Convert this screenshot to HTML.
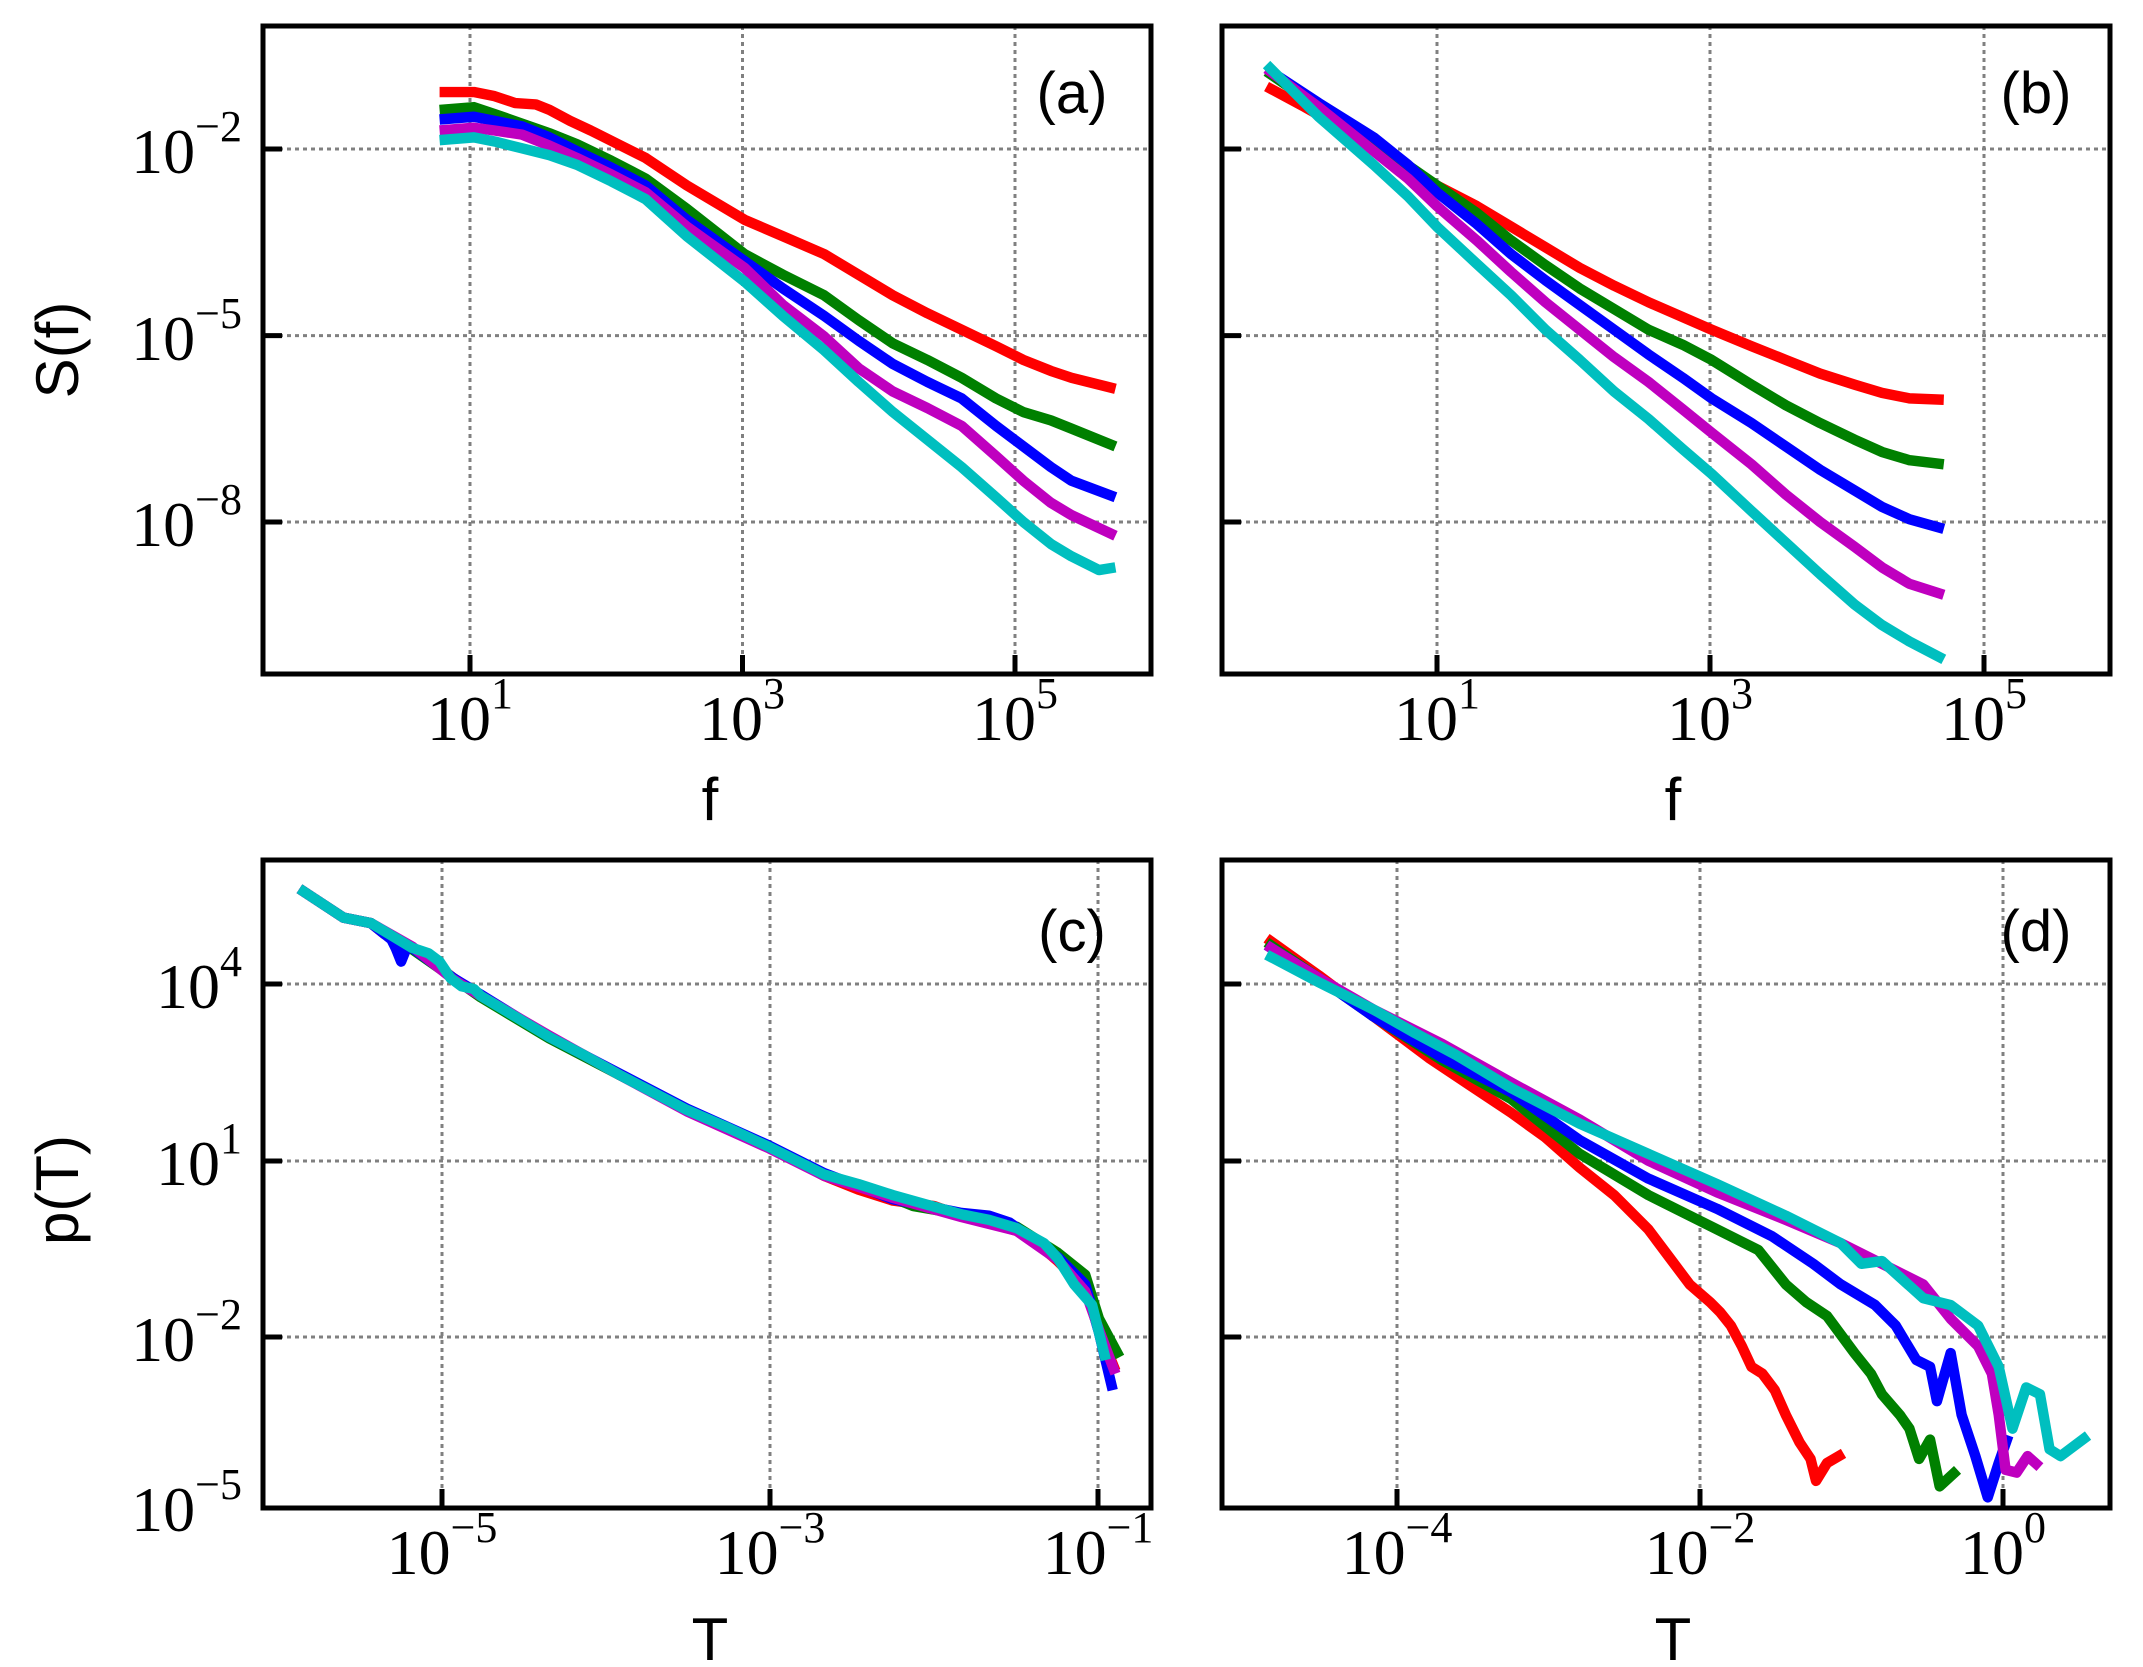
<!DOCTYPE html>
<html><head><meta charset="utf-8"><style>
html,body{margin:0;padding:0;background:#fff;}
svg{display:block;}
.tk{font-family:"Liberation Serif",serif;font-size:64px;}
.sp{font-size:44px;}
.al{font-family:"Liberation Sans",sans-serif;font-size:60px;}
.pl{font-family:"Liberation Sans",sans-serif;font-size:58px;}
.g{stroke:#808080;stroke-width:3;stroke-dasharray:4 4;fill:none;}
.sp1{fill:none;stroke:#000;stroke-width:5;}
.c polyline{fill:none;stroke-width:7.6;stroke-linejoin:round;stroke-linecap:butt;}
</style></head><body>
<svg width="2143" height="1667" viewBox="0 0 2143 1667" xmlns="http://www.w3.org/2000/svg">
<g class="g">
<path d="M470 26V674M742.5 26V674M1015 26V674M263 149H1151M263 335.6H1151M263 522H1151"/>
<path d="M1437 26V674M1710 26V674M1984 26V674M1222 149H2110M1222 335.6H2110M1222 522H2110"/>
<path d="M442 860V1508M770 860V1508M1098 860V1508M263 984H1151M263 1161H1151M263 1337H1151"/>
<path d="M1397 860V1508M1700 860V1508M2003 860V1508M1222 984H2110M1222 1161H2110M1222 1337H2110"/>
</g>
<g class="c" transform="scale(1.3737)">
<g>
<polyline stroke="#ff0000" points="320,67 345,67 360,70 375,75 390,76 400,80 415,88 430,95 450,105 470,115 500,135 542,160 570,172 600,185 625,200 650,215 675,228 700,240 725,252 745,262 765,270 780,275 812,283"/>
<polyline stroke="#008000" points="320,80 345,78 360,83 380,90 400,97 420,105 445,117 470,130 500,152 542,185 570,200 600,215 625,233 650,250 675,262 700,275 725,290 745,300 765,306 780,312 812,325"/>
<polyline stroke="#0000ff" points="320,87 345,85 360,88 380,92 400,100 420,110 445,122 470,135 500,160 542,190 570,210 600,230 625,248 650,265 675,278 700,290 725,310 745,325 765,340 780,350 812,362"/>
<polyline stroke="#bf00bf" points="320,95 345,93 360,95 380,98 400,106 420,115 445,127 470,140 500,165 542,195 570,222 600,245 625,268 650,285 675,297 700,310 725,332 745,350 765,366 780,375 812,390"/>
<polyline stroke="#00bfbf" points="320,102 345,100 360,103 380,108 400,113 420,120 445,132 470,145 500,172 542,205 570,230 600,255 625,278 650,300 675,320 700,340 725,362 745,380 765,396 780,405 800,415 812,413"/>
</g>
<g>
<polyline stroke="#ff0000" points="922,63 950,78 980,95 1010,113 1046,135 1075,150 1100,165 1125,180 1150,195 1175,208 1200,220 1246,240 1275,252 1300,262 1325,272 1350,280 1370,286 1390,290 1415,291"/>
<polyline stroke="#008000" points="922,52 960,78 985,95 1010,110 1046,135 1075,155 1100,175 1125,193 1150,210 1175,225 1200,240 1225,251 1246,262 1275,280 1300,295 1325,308 1350,320 1370,329 1390,335 1415,338"/>
<polyline stroke="#0000ff" points="922,50 960,75 1000,100 1025,120 1046,140 1075,163 1100,185 1125,204 1150,222 1175,240 1200,258 1225,275 1246,290 1275,308 1300,325 1325,342 1350,357 1370,369 1390,378 1415,385"/>
<polyline stroke="#bf00bf" points="922,50 960,78 1000,110 1025,130 1046,150 1075,175 1100,198 1125,220 1150,240 1175,260 1200,278 1225,298 1246,315 1275,338 1300,360 1325,380 1350,398 1370,413 1390,425 1415,433"/>
<polyline stroke="#00bfbf" points="922,47 960,85 1000,120 1025,143 1046,165 1075,192 1100,215 1125,240 1150,262 1175,285 1200,305 1225,327 1246,345 1275,372 1300,395 1325,418 1350,440 1370,455 1390,467 1415,480"/>
</g>
<g>
<polyline stroke="#ff0000" points="218,647 250,668 270,672 280,680 300,690 315,700 330,712 350,725 375,740 400,755 425,768 450,782 475,795 500,808 530,821 560,835 580,845 600,856 625,866 650,874 680,878 700,885 720,890 740,896 755,905 770,918 790,938 800,968 812,998"/>
<polyline stroke="#008000" points="218,647 250,668 270,672 300,691 330,712 350,726 400,756 450,782 500,808 560,835 600,855 650,872 665,878 700,884 740,893 770,912 790,928 800,960 815,988"/>
<polyline stroke="#0000ff" points="218,647 250,668 270,672 285,684 288,690 292,700 296,690 300,690 330,712 350,724 400,755 450,781 500,807 560,834 600,854 650,873 700,883 720,885 735,890 770,915 790,935 800,970 810,1012"/>
<polyline stroke="#bf00bf" points="218,647 250,668 270,672 300,689 330,713 350,725 400,754 450,782 500,809 560,836 600,856 650,872 700,886 740,896 770,917 790,940 800,968 812,1000"/>
<polyline stroke="#00bfbf" points="218,647 250,668 270,672 300,690 312,694 320,700 328,712 336,718 345,720 350,725 375,740 400,755 425,768 450,782 475,795 500,808 530,821 560,835 600,855 625,862 650,870 700,884 720,888 740,894 760,905 770,916 782,935 795,950 805,990"/>
</g>
<g>
<polyline stroke="#ff0000" points="922,683 960,710 1000,740 1040,770 1070,790 1100,810 1125,828 1150,850 1175,870 1200,895 1215,915 1230,935 1245,948 1252,955 1260,965 1268,980 1275,995 1283,1000 1292,1012 1300,1030 1310,1050 1318,1062 1322,1078 1330,1065 1342,1058"/>
<polyline stroke="#008000" points="922,686 960,712 1000,740 1050,772 1100,800 1150,840 1200,870 1250,895 1280,910 1300,935 1315,948 1330,958 1350,985 1362,1000 1370,1015 1383,1030 1390,1040 1397,1062 1405,1048 1412,1082 1425,1070"/>
<polyline stroke="#0000ff" points="922,688 960,712 1000,740 1050,770 1100,795 1150,830 1200,858 1250,880 1290,900 1320,920 1340,935 1365,950 1380,965 1395,990 1405,995 1410,1020 1420,985 1428,1030 1438,1060 1447,1090 1455,1065 1462,1045"/>
<polyline stroke="#bf00bf" points="922,688 960,712 1000,735 1050,760 1100,788 1150,815 1200,845 1250,868 1300,888 1340,905 1380,925 1400,935 1420,960 1440,980 1450,1000 1455,1030 1460,1070 1468,1072 1476,1060 1485,1068"/>
<polyline stroke="#00bfbf" points="922,695 960,715 1000,735 1030,752 1060,768 1100,792 1150,818 1200,840 1250,862 1300,885 1340,905 1355,920 1370,918 1400,945 1420,950 1440,965 1455,995 1465,1040 1475,1010 1485,1015 1492,1055 1500,1060 1520,1045"/>
</g>
</g>
<g class="sp1">
<rect x="263" y="26" width="888" height="648"/>
<rect x="1222" y="26" width="888" height="648"/>
<rect x="263" y="860" width="888" height="648"/>
<rect x="1222" y="860" width="888" height="648"/>
<path d="M470 674v-19M742.5 674v-19M1015 674v-19M263 149h19M263 335.6h19M263 522h19"/>
<path d="M1437 674v-19M1710 674v-19M1984 674v-19M1222 149h19M1222 335.6h19M1222 522h19"/>
<path d="M442 1508v-19M770 1508v-19M1098 1508v-19M263 984h19M263 1161h19M263 1337h19"/>
<path d="M1397 1508v-19M1700 1508v-19M2003 1508v-19M1222 984h19M1222 1161h19M1222 1337h19"/>
</g>
<g class="tk" text-anchor="end">
<text x="242" y="173">10<tspan class="sp" dy="-32">−2</tspan></text>
<text x="242" y="360">10<tspan class="sp" dy="-32">−5</tspan></text>
<text x="242" y="546">10<tspan class="sp" dy="-32">−8</tspan></text>
<text x="242" y="1008">10<tspan class="sp" dy="-32">4</tspan></text>
<text x="242" y="1185">10<tspan class="sp" dy="-32">1</tspan></text>
<text x="242" y="1361">10<tspan class="sp" dy="-32">−2</tspan></text>
<text x="242" y="1531">10<tspan class="sp" dy="-32">−5</tspan></text>
</g>
<g class="tk" text-anchor="middle">
<text x="470" y="740">10<tspan class="sp" dy="-32">1</tspan></text>
<text x="742" y="740">10<tspan class="sp" dy="-32">3</tspan></text>
<text x="1015" y="740">10<tspan class="sp" dy="-32">5</tspan></text>
<text x="1437" y="740">10<tspan class="sp" dy="-32">1</tspan></text>
<text x="1710" y="740">10<tspan class="sp" dy="-32">3</tspan></text>
<text x="1984" y="740">10<tspan class="sp" dy="-32">5</tspan></text>
<text x="442" y="1574">10<tspan class="sp" dy="-32">−5</tspan></text>
<text x="770" y="1574">10<tspan class="sp" dy="-32">−3</tspan></text>
<text x="1098" y="1574">10<tspan class="sp" dy="-32">−1</tspan></text>
<text x="1397" y="1574">10<tspan class="sp" dy="-32">−4</tspan></text>
<text x="1700" y="1574">10<tspan class="sp" dy="-32">−2</tspan></text>
<text x="2003" y="1574">10<tspan class="sp" dy="-32">0</tspan></text>
</g>
<g class="al" text-anchor="middle">
<text x="710" y="820">f</text>
<text x="1673" y="820">f</text>
<text x="710" y="1660">T</text>
<text x="1673" y="1660">T</text>
<text transform="translate(78,350) rotate(-90)">S(f)</text>
<text transform="translate(78,1190) rotate(-90)">p(T)</text>
</g>
<g class="pl" text-anchor="middle">
<text x="1072" y="113">(a)</text>
<text x="2036" y="113">(b)</text>
<text x="1072" y="951">(c)</text>
<text x="2036" y="951">(d)</text>
</g>
</svg>
</body></html>
